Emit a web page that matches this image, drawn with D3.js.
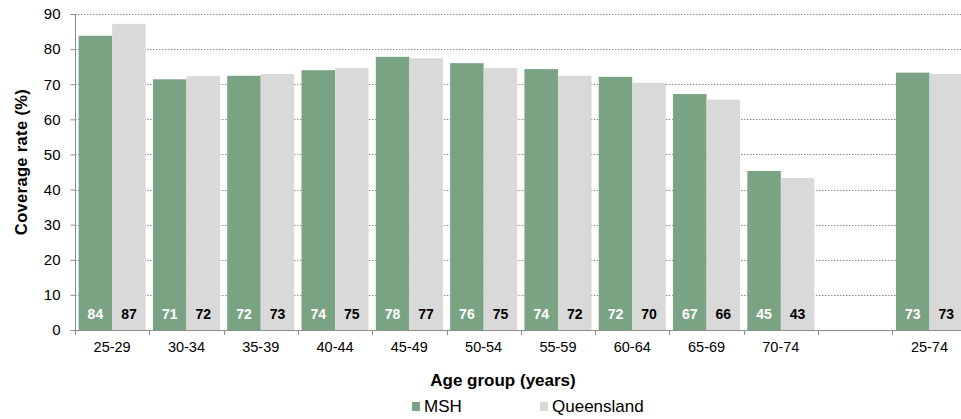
<!DOCTYPE html>
<html>
<head>
<meta charset="utf-8">
<script src="https://cdn.jsdelivr.net/npm/d3@7/dist/d3.min.js"></script>
<style>
  body { margin: 0; background: #fff; }
  svg { display: block; font-family: "Liberation Sans", Arial, sans-serif; }
</style>
</head>
<body>
<svg id="chart" width="961" height="419"></svg>
<script>
// Age groups (an empty slot separates the individual groups from the overall 25-74 group)
const categories = ["25-29", "30-34", "35-39", "40-44", "45-49", "50-54", "55-59", "60-64", "65-69", "70-74", "", "25-74"];
const seriesNames = ["MSH", "Queensland"];
const msh        = [83.8, 71.4, 72.4, 74.0, 77.8, 76.0, 74.3, 72.1, 67.2, 45.3, null, 73.3];
const queensland = [87.2, 72.3, 72.9, 74.6, 77.4, 74.6, 72.4, 70.4, 65.6, 43.3, null, 72.9];
const yTicks = [0, 10, 20, 30, 40, 50, 60, 70, 80, 90];
const colors = ["#7aa383", "#d9d9d9"];
const labelColors = ["#ffffff", "#000000"];

const svg = d3.select("#chart");
const margin = { left: 75, top: 14, bottom: 89 };
const plotBottom = 419 - margin.bottom;
const slotWidth = 74.3;
const plotRight = margin.left + slotWidth * categories.length;

const x0 = d3.scaleBand()
  .domain(d3.range(categories.length))
  .range([margin.left, plotRight])
  .paddingInner(0)
  .paddingOuter(0);
const x1 = d3.scaleBand()
  .domain(seriesNames)
  .range([0, x0.bandwidth()])
  .paddingOuter(0.108)
  .paddingInner(0);
const y = d3.scaleLinear().domain([0, 90]).range([plotBottom, margin.top]);

// Dotted horizontal gridlines
svg.append("g")
  .selectAll("line")
  .data(yTicks.filter(t => t > 0))
  .join("line")
  .attr("x1", margin.left)
  .attr("x2", plotRight)
  .attr("y1", d => Math.round(y(d)) + 0.5)
  .attr("y2", d => Math.round(y(d)) + 0.5)
  .attr("stroke", "#8c8c8c")
  .attr("stroke-width", 1)
  .attr("stroke-dasharray", "1.5,1.5");

// Bars
const rows = categories.map((c, i) => ({ i, values: [msh[i], queensland[i]] }));
const groups = svg.append("g")
  .selectAll("g")
  .data(rows.filter(r => r.values[0] != null))
  .join("g")
  .attr("transform", d => `translate(${x0(d.i)},0)`);

groups.selectAll("rect")
  .data(d => d.values.map((v, k) => ({ v, k })))
  .join("rect")
  .attr("x", d => x1(seriesNames[d.k]))
  .attr("width", x1.bandwidth())
  .attr("y", d => y(d.v))
  .attr("height", d => y(0) - y(d.v))
  .attr("fill", d => colors[d.k]);

// Value labels near the base of each bar
groups.selectAll("text")
  .data(d => d.values.map((v, k) => ({ v, k })))
  .join("text")
  .attr("x", d => x1(seriesNames[d.k]) + x1.bandwidth() / 2)
  .attr("y", y(0) - 11)
  .attr("text-anchor", "middle")
  .attr("font-size", 14)
  .attr("font-weight", "bold")
  .attr("fill", d => labelColors[d.k])
  .text(d => Math.round(d.v));

// Y axis
const yAxis = d3.axisLeft(y).tickValues(yTicks).tickSize(5).tickPadding(10).tickFormat(d3.format("d"));
const gy = svg.append("g")
  .attr("transform", `translate(${margin.left + 0.5},0)`)
  .call(yAxis);
gy.select(".domain").attr("stroke", "#8c8c8c").attr("d", `M-5,${margin.top + 0.5}H0V${plotBottom + 0.5}H-5`);
gy.selectAll(".tick line").attr("stroke", "#8c8c8c");
gy.selectAll(".tick text").attr("font-size", 15).attr("fill", "#000").attr("font-family", "Liberation Sans, Arial, sans-serif");

// X axis with ticks at category boundaries
const xAxisLine = svg.append("g");
xAxisLine.append("line")
  .attr("x1", margin.left)
  .attr("x2", plotRight)
  .attr("y1", plotBottom + 0.5)
  .attr("y2", plotBottom + 0.5)
  .attr("stroke", "#8c8c8c");
xAxisLine.selectAll("line.tk")
  .data(d3.range(categories.length + 1))
  .join("line")
  .attr("class", "tk")
  .attr("x1", i => Math.round(margin.left + i * x0.step()) + 0.5)
  .attr("x2", i => Math.round(margin.left + i * x0.step()) + 0.5)
  .attr("y1", plotBottom)
  .attr("y2", plotBottom + 5)
  .attr("stroke", "#8c8c8c");
svg.append("g")
  .selectAll("text")
  .data(categories.map((c, i) => ({ c, i })))
  .join("text")
  .attr("x", d => x0(d.i) + x0.bandwidth() / 2)
  .attr("y", plotBottom + 22)
  .attr("text-anchor", "middle")
  .attr("font-size", 14.5)
  .attr("fill", "#000")
  .text(d => d.c);

// Axis titles
svg.append("text")
  .attr("transform", "translate(27,162) rotate(-90)")
  .attr("text-anchor", "middle")
  .attr("font-size", 16.5)
  .attr("letter-spacing", 0.35)
  .attr("font-weight", "bold")
  .text("Coverage rate (%)");
svg.append("text")
  .attr("x", 503)
  .attr("y", 386)
  .attr("text-anchor", "middle")
  .attr("font-size", 17)
  .attr("font-weight", "bold")
  .text("Age group (years)");

// Legend
const legendX = [412, 540];
const legend = svg.append("g")
  .selectAll("g")
  .data(seriesNames)
  .join("g")
  .attr("transform", (d, k) => `translate(${legendX[k]},402)`);
legend.append("rect")
  .attr("width", 8)
  .attr("height", 9)
  .attr("y", 0)
  .attr("fill", (d, k) => colors[k]);
legend.append("text")
  .attr("x", 12)
  .attr("y", 9.5)
  .attr("font-size", 17)
  .attr("fill", "#000")
  .text(d => d);
</script>
</body>
</html>
